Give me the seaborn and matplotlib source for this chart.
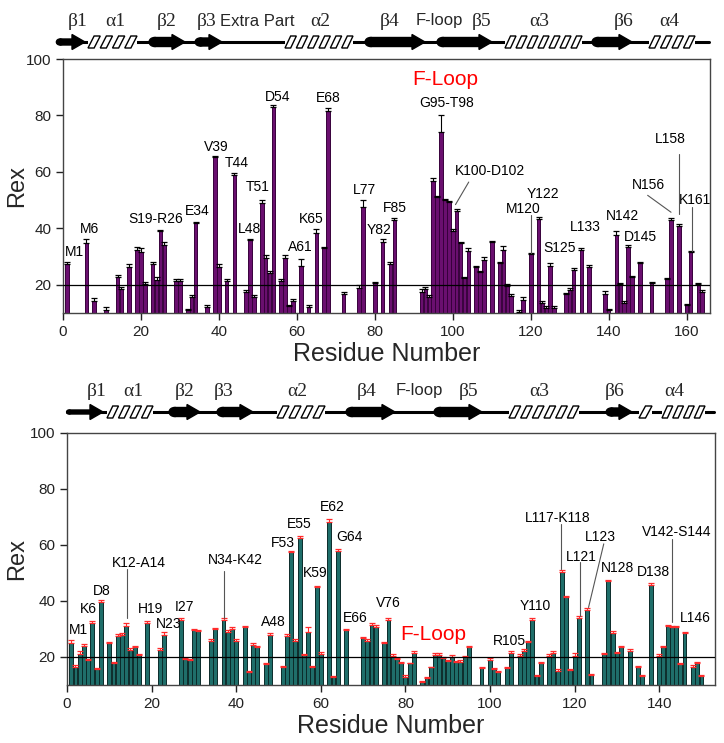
import numpy as np
import pandas as pd
import matplotlib
matplotlib.use("Agg")
import matplotlib.pyplot as plt
from matplotlib.patches import Polygon, Ellipse, Rectangle
import seaborn as sns

# ---- upper panel (purple) ----
top_res = [1, 6, 8, 11, 14, 15, 17, 19, 20, 21,
           23, 24, 25, 26, 29, 30, 32, 33, 34, 37,
           39, 40, 42, 44, 47, 48, 49, 51, 52, 53,
           54, 56, 57, 58, 59, 61, 63, 65, 67, 68,
           72, 76, 77, 80, 82, 84, 85, 92, 93, 94,
           95, 96, 97, 98, 99, 100, 101, 102, 103, 104,
           106, 107, 108, 110, 112, 113, 114, 115, 117, 118,
           120, 122, 123, 124, 125, 126, 129, 130, 131, 133,
           135, 139, 140, 142, 143, 144, 145, 146, 148, 151,
           155, 156, 158, 160, 161, 163, 164]
top_rex = [27.4, 34.8, 14.3, 11.1, 22.6, 18.5, 26.4, 32.5, 31.5, 20.2,
           27.4, 21.7, 39.0, 34.1, 21.4, 21.4, 11.0, 15.5, 41.9, 12.0,
           65.1, 26.4, 21.4, 59.0, 17.4, 35.7, 15.8, 48.9, 29.5, 24.0,
           83.1, 21.4, 29.5, 12.5, 14.3, 26.8, 12.3, 38.4, 32.9, 81.6,
           16.7, 19.0, 47.5, 20.6, 35.3, 27.4, 43.0, 17.6, 18.5, 15.7,
           56.7, 51.1, 74.2, 49.9, 49.3, 39.2, 46.2, 34.8, 22.3, 32.1,
           26.2, 24.4, 28.8, 35.0, 27.6, 32.3, 19.6, 16.1, 10.5, 14.5,
           30.9, 43.4, 13.7, 11.9, 26.5, 11.9, 16.7, 18.1, 25.3, 32.5,
           26.4, 16.7, 11.0, 37.8, 20.2, 13.7, 33.5, 22.6, 27.6, 20.6,
           22.0, 42.8, 41.0, 12.8, 31.5, 20.2, 17.6]
top_err = [0.8, 1.5, 1.0, 1.0, 1.0, 0.8, 1.0, 1.0, 1.5, 0.8,
           0.8, 1.0, 0.5, 1.2, 0.8, 0.8, 0.5, 1.0, 0.5, 0.8,
           0.5, 1.0, 0.5, 0.5, 0.8, 0.5, 0.5, 1.2, 1.2, 0.8,
           0.5, 0.5, 1.0, 0.5, 0.5, 2.4, 0.5, 1.5, 0.5, 1.0,
           0.8, 0.8, 2.4, 0.5, 1.0, 0.5, 0.5, 0.8, 0.8, 0.8,
           1.0, 0.5, 6.0, 0.5, 0.5, 0.5, 0.5, 0.5, 0.5, 0.8,
           0.5, 0.5, 1.0, 0.5, 0.5, 1.5, 0.8, 0.5, 0.5, 1.0,
           0.5, 0.5, 0.5, 0.5, 1.2, 0.5, 0.5, 0.8, 0.5, 0.5,
           0.5, 1.0, 0.5, 1.2, 0.5, 0.5, 0.5, 0.5, 0.5, 0.5,
           0.5, 0.8, 0.5, 0.5, 0.5, 0.5, 0.5]

# ---- lower panel (teal) ----
bot_res = [1, 2, 3, 4, 5, 6, 7, 8, 10, 11,
           12, 13, 14, 15, 16, 17, 19, 22, 23, 27,
           28, 29, 30, 31, 34, 35, 37, 38, 39, 40,
           42, 43, 44, 45, 47, 48, 51, 52, 53, 54,
           55, 56, 57, 58, 59, 60, 62, 63, 64, 66,
           70, 71, 72, 73, 75, 76, 77, 78, 79, 80,
           81, 82, 84, 85, 86, 87, 88, 89, 90, 91,
           92, 93, 94, 95, 98, 100, 101, 102, 104, 105,
           107, 108, 109, 110, 111, 112, 114, 115, 116, 117,
           118, 119, 120, 121, 123, 124, 127, 128, 129, 130,
           131, 133, 135, 136, 138, 140, 141, 142, 143, 144,
           145, 146, 148, 149, 150]
bot_rex = [25.0, 16.5, 21.1, 23.8, 18.9, 32.0, 15.7, 39.8, 24.9, 17.7,
           27.6, 28.0, 31.2, 22.6, 23.5, 20.7, 32.0, 22.6, 28.0, 33.2,
           19.3, 18.9, 29.6, 29.2, 25.8, 30.0, 33.2, 29.0, 30.0, 25.8,
           30.8, 14.5, 24.4, 23.5, 17.4, 28.0, 16.3, 27.6, 57.4, 25.8,
           62.5, 20.7, 28.8, 16.3, 45.1, 21.1, 68.1, 12.7, 57.7, 29.6,
           26.7, 25.8, 31.5, 30.8, 25.0, 33.2, 20.5, 19.3, 17.7, 12.7,
           17.7, 21.3, 11.0, 12.5, 16.3, 20.8, 20.8, 19.6, 18.7, 19.9,
           18.1, 18.3, 19.9, 23.5, 16.0, 19.0, 15.7, 14.5, 16.1, 21.3,
           20.5, 22.3, 25.2, 33.2, 13.1, 17.7, 20.5, 21.3, 15.1, 50.2,
           41.3, 15.4, 20.5, 33.9, 36.9, 13.7, 21.1, 47.0, 28.6, 21.4,
           23.5, 22.3, 16.5, 13.1, 45.8, 20.5, 23.5, 31.2, 30.8, 30.6,
           17.5, 28.5, 16.5, 17.9, 13.3]
bot_err = [1.0, 0.5, 1.2, 0.8, 0.5, 0.8, 0.5, 0.7, 0.6, 0.5,
           0.7, 0.5, 0.8, 0.5, 0.6, 0.4, 0.7, 0.7, 0.8, 0.8,
           0.3, 0.3, 0.5, 0.4, 0.8, 0.5, 0.7, 0.5, 0.6, 0.5,
           0.4, 0.4, 0.7, 0.6, 0.5, 0.6, 0.4, 0.5, 0.5, 0.5,
           0.6, 0.4, 1.8, 0.4, 0.4, 0.8, 1.2, 0.6, 0.8, 0.5,
           0.6, 0.6, 0.7, 0.7, 0.5, 0.8, 0.5, 0.4, 0.4, 0.8,
           0.3, 0.7, 0.3, 0.3, 0.3, 0.6, 0.6, 0.4, 0.3, 0.8,
           0.3, 0.5, 0.5, 0.4, 0.5, 0.5, 0.5, 0.4, 0.4, 0.7,
           0.5, 0.7, 0.6, 0.8, 0.4, 0.6, 0.7, 0.9, 0.5, 0.7,
           0.5, 0.4, 0.8, 0.6, 0.5, 0.4, 0.5, 0.4, 0.6, 0.5,
           0.4, 0.5, 0.4, 0.5, 0.5, 0.5, 0.5, 0.4, 0.4, 0.4,
           0.4, 0.6, 0.5, 0.4, 0.4]

# residue labels (text, x, y) and leader lines
top_notes = [("M1", 3, 31.5), ("M6", 6.7, 39.8), ("S19-R26", 23.8, 43.4),
             ("E34", 34.5, 46), ("V39", 39.2, 68.9), ("T44", 44.6, 63),
             ("L48", 47.8, 39.8), ("T51", 50, 54.6), ("D54", 55, 86.7),
             ("E68", 68, 86.1), ("A61", 61, 33.3), ("K65", 63.7, 43.4),
             ("L77", 77.4, 53.5), ("Y82", 81, 39.4), ("F85", 85.1, 47.3),
             ("G95-T98", 98.5, 84.3), ("K100-D102", 109.6, 60.3),
             ("Y122", 123.2, 52), ("M120", 118.1, 46.9), ("S125", 127.3, 33),
             ("L133", 134.1, 40.6), ("N142", 143.5, 44.2), ("D145", 148.1, 36.8),
             ("N156", 150.1, 55.5), ("L158", 155.7, 71.5), ("K161", 162.2, 50.1)]
top_leaders = [(104.1, 56.4, 100.7, 48.4), (120.2, 44.6, 120.2, 31.1),
               (150, 51.7, 156, 45.7), (158, 66.5, 158, 45.2),
               (161.4, 47.5, 161.4, 32.1)]
bot_notes = [("M1", 2.7, 29.6), ("K6", 5, 37.1), ("D8", 8.1, 43.4),
             ("K12-A14", 16.9, 53.4), ("H19", 19.7, 37.1), ("N23", 24, 31.8),
             ("I27", 27.8, 37.7), ("N34-K42", 39.8, 54.6), ("A48", 48.7, 32.6),
             ("F53", 51.1, 60.6), ("E55", 55, 67.5), ("K59", 58.7, 49.9),
             ("E62", 62.8, 73.4), ("G64", 66.7, 63), ("E66", 68.2, 33.9),
             ("V76", 76, 39.3), ("R105", 104.6, 25.6), ("Y110", 110.7, 38.3),
             ("L117-K118", 116, 69.5), ("L121", 121.7, 55.8), ("L123", 126.1, 62.7),
             ("N128", 130.2, 51.8), ("D138", 138.7, 50.2),
             ("V142-S144", 144.2, 64.8), ("L146", 148.5, 33.8)]
bot_leaders = [(14.2, 51.4, 14.2, 34.1), (37.2, 50.8, 37.2, 34.1),
               (116.9, 67.5, 116.9, 51.4), (121.2, 53.8, 121.2, 34.8),
               (126.9, 60.4, 123.3, 37.7), (143.1, 62.1, 143.1, 32.4)]

# secondary structure cartoons (figure pixel coords)
top_strands = [(57, 85, 6), (150, 185, 9), (196, 222, 8), (366, 425, 9), (438, 492, 9), (593, 632, 9)]
top_helices = [(88, 137), (285, 353), (505, 582), (649, 695)]
top_ss_labels = [("β1", 78), ("α1", 115), ("β2", 167), ("β3", 207), ("Extra Part", 257),
                 ("α2", 320), ("β4", 390), ("F-loop", 439), ("β5", 482), ("α3", 539),
                 ("β6", 624), ("α4", 669)]
bot_strands = [(67, 103, 4), (170, 200, 9), (218, 253, 9), (347, 395, 9), (435, 482, 9), (607, 632, 8)]
bot_helices = [(107, 153), (277, 325), (509, 579), (639, 652), (662, 705)]
bot_ss_labels = [("β1", 97), ("α1", 133), ("β2", 185), ("β3", 224), ("α2", 297),
                 ("β4", 367), ("F-loop", 419), ("β5", 469), ("α3", 539),
                 ("β6", 615), ("α4", 674)]

sns.set_style("ticks")
plt.rcParams['font.family'] = ['Liberation Sans', 'DejaVu Sans']

fig = plt.figure(figsize=(7.24, 7.43), dpi=100)
ov = fig.add_axes([0, 0, 1, 1])
ov.set_xlim(0, 724)
ov.set_ylim(743, 0)
ov.axis('off')


def draw_strand(x0, x1, y, body):
    hl, hh = 13, 15
    pts = [(x0 + body / 2, y - body / 2), (x1 - hl, y - body / 2), (x1 - hl, y - hh / 2), (x1, y),
           (x1 - hl, y + hh / 2), (x1 - hl, y + body / 2), (x0 + body / 2, y + body / 2)]
    ov.add_patch(Polygon(pts, closed=True, fc='black', ec='black', lw=1, zorder=3))
    ov.add_patch(Ellipse((x0 + body / 2, y), body * 1.2, body, fc='black', ec='black', zorder=3))


def draw_helix(x0, x1, y, h=12):
    ov.add_patch(Rectangle((x0, y - 2), x1 - x0, 4, fc='white', ec='none', zorder=2))
    n = max(1, int(round((x1 - x0) / 11.0)))
    w = (x1 - x0) / n
    for i in range(n):
        xa = x0 + i * w
        pts = [(xa, y + h / 2), (xa + w * 0.5, y + h / 2), (xa + w, y - h / 2), (xa + w * 0.5, y - h / 2)]
        ov.add_patch(Polygon(pts, closed=True, fc='white', ec='black', lw=1.0, zorder=3))


def draw_topology(y_line, y_lab, x_start, x_end, strands, helices, labels):
    ov.plot([x_start, x_end], [y_line, y_line], color='black', lw=2.2, zorder=1)
    for x0, x1, b in strands:
        draw_strand(x0, x1, y_line, b)
    for x0, x1 in helices:
        draw_helix(x0, x1, y_line)
    for txt, x in labels:
        if txt[0] in "αβ":
            ov.text(x, y_lab, txt, ha='center', va='center', fontsize=14,
                    family=['Liberation Serif', 'DejaVu Serif'])
        else:
            ov.text(x, y_lab, txt, ha='center', va='center', fontsize=12)


draw_topology(42, 21, 57, 709, top_strands, top_helices, top_ss_labels)
draw_topology(412, 391, 67, 714, bot_strands, bot_helices, bot_ss_labels)


def panel(ax, res, rex, err, fill, edge, ecol, xmax, xticks, notes, leaders, floop, ylab_x):
    df = pd.DataFrame({"res": res, "rex": rex})
    sns.barplot(data=df, x="res", y="rex", native_scale=True, color=fill, saturation=1,
                edgecolor=edge, linewidth=0.7, width=0.92, errorbar=None, ax=ax)
    ax.errorbar(res, rex, yerr=[np.zeros(len(err)), err], fmt='none', ecolor=ecol,
                elinewidth=0.8, capsize=2.3, capthick=0.9, zorder=3)
    ax.axhline(20, color='black', lw=0.9, zorder=4)
    ax.set_xlim(0, xmax)
    ax.set_ylim(10, 100)
    ax.set_xticks(xticks)
    ax.set_yticks([20, 40, 60, 80, 100])
    ax.tick_params(direction='out', length=5, width=1, labelsize=11, colors='#222222')
    for s in ax.spines.values():
        s.set_color('#444444')
        s.set_linewidth(1)
    ax.set_xlabel("Residue Number", fontsize=18, labelpad=2)
    ax.set_ylabel("Rex", fontsize=17)
    ax.yaxis.set_label_coords(ylab_x, 0.5)
    for txt, x, y in notes:
        ax.text(x, y, txt, ha='center', va='center', fontsize=10, color='black', zorder=5)
    for x0, y0, x1, y1 in leaders:
        ax.plot([x0, x1], [y0, y1], color='#555555', lw=0.8, zorder=5)
    ax.text(floop[0], floop[1], "F-Loop", color='red', fontsize=15, ha='center', va='center', zorder=5)


ax1 = fig.add_axes([63 / 724, 1 - 313 / 743, 647 / 724, 254 / 743])
panel(ax1, top_res, top_rex, top_err, '#6a0f6f', '#38003c', 'black', 166,
      range(0, 161, 20), top_notes, top_leaders, (98, 92.6), -0.054)

ax2 = fig.add_axes([67 / 724, 1 - 685 / 743, 648 / 724, 252 / 743])
panel(ax2, bot_res, bot_rex, bot_err, '#1f6e6a', '#0b2b2a', '#ff2a2a', 153.2,
      range(0, 141, 20), bot_notes, bot_leaders, (86.5, 28.2), -0.06)

fig.savefig("out.png", dpi=100)
